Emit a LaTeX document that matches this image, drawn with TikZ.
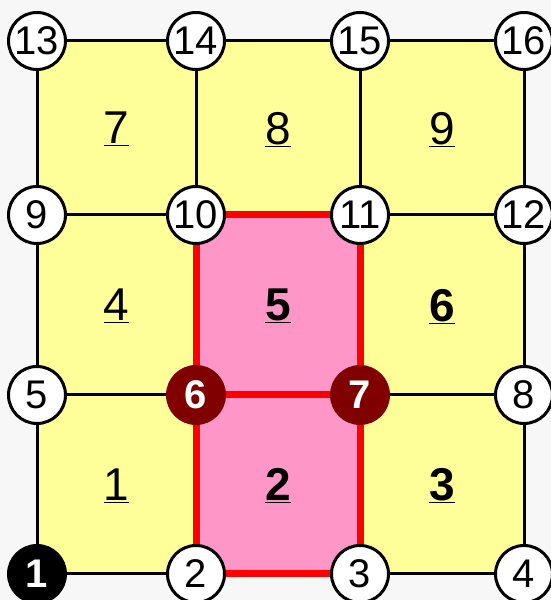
\documentclass[tikz,border=0pt]{standalone}
\usepackage{fontspec}
\setmainfont{Liberation Sans}
\usetikzlibrary{calc, backgrounds}
\definecolor{giallo}{RGB}{255,255,153}
\definecolor{rosa}{RGB}{255,150,200}
\definecolor{bordeaux}{RGB}{128,0,0}
\definecolor{sfondo}{RGB}{247,247,247}
\tikzset{
  nodo/.style={circle, draw=black, line width=3pt, fill=white, minimum size=57pt, inner sep=0pt, font=\fontsize{40}{40}\selectfont},
  nodoint/.style={nodo, draw=bordeaux, fill=bordeaux, text=white, font=\fontsize{40}{40}\selectfont\bfseries},
  nodonero/.style={nodoint, draw=black, fill=black},
  elem/.style={inner sep=0pt, text depth=0pt, font=\fontsize{46}{46}\selectfont},
  elemint/.style={elem, font=\fontsize{46}{46}\selectfont\bfseries},
  lato/.style={line width=3pt},
  latorosso/.style={red, line width=7pt}
}

\begin{document}
\begin{tikzpicture}[x=1pt, y=1pt]
    %area del disegno
        \useasboundingbox (0,0) rectangle (551,600);
        %disegno nodi
        \node (n1) at (37,26)[nodonero]{1};
        \node (n2) at (196,26)[nodo]{2};
        \node (n3) at (360,26)[nodo]{3};
        \node (n4) at (524,26)[nodo]{4};
        \node (n5) at (37,205)[nodo]{5};
        \node (n6) at (196,205)[nodoint]{6};
        \node (n7) at (360,205)[nodoint]{7};
        \node (n8) at (524,205)[nodo]{8};
        \node (n9) at (37,385)[nodo]{9};
        \node (n10) at (196,385)[nodo]{10};
        \node (n11) at (360,385)[nodo]{11};
        \node (n12) at (524,385)[nodo]{12};
        \node (n13) at (37,559)[nodo]{13};
        \node (n14) at (196,559)[nodo]{14};
        \node (n15) at (360,559)[nodo]{15};
        \node (n16) at (524,559)[nodo]{16};
        %riempimento elementi
        \begin{scope}[on background layer]
            \fill[sfondo] (0,0) rectangle (551,600);
            \fill[giallo] (n1.center) rectangle (n16.center);
            \fill[rosa] (n2.center) rectangle (n11.center);
        \end{scope}
        %disegno lati
        \draw[lato] (n1)--(n2) (n3)--(n4);
        \draw[lato] (n5)--(n6) (n7)--(n8);
        \draw[lato] (n9)--(n10) (n11)--(n12);
        \draw[lato] (n13)--(n14)--(n15)--(n16);
        \draw[lato] (n1)--(n5)--(n9)--(n13);
        \draw[lato] (n10)--(n14) (n11)--(n15);
        \draw[lato] (n4)--(n8)--(n12)--(n16);
        %lati rossi
        \draw[latorosso] (n2)--(n3) (n3)--(n7) (n7)--(n11) (n11)--(n10) (n10)--(n6) (n6)--(n2);
        \draw[latorosso] (n6)--(n7);
        %numeri elementi
        \node (e1) at ($(n1)!.5!(n6)$)[elem]{\underline{1}};
        \node (e2) at ($(n2)!.5!(n7)$)[elemint]{\underline{2}};
        \node (e3) at ($(n3)!.5!(n8)$)[elemint]{\underline{3}};
        \node (e4) at ($(n5)!.5!(n10)$)[elem]{\underline{4}};
        \node (e5) at ($(n6)!.5!(n11)$)[elemint]{\underline{5}};
        \node (e6) at ($(n7)!.5!(n12)$)[elemint]{\underline{6}};
        \node (e7) at ($(n9)!.5!(n14)$)[elem]{\underline{7}};
        \node (e8) at ($(n10)!.5!(n15)$)[elem]{\underline{8}};
        \node (e9) at ($(n11)!.5!(n16)$)[elem]{\underline{9}};
\end{tikzpicture}
\end{document}
